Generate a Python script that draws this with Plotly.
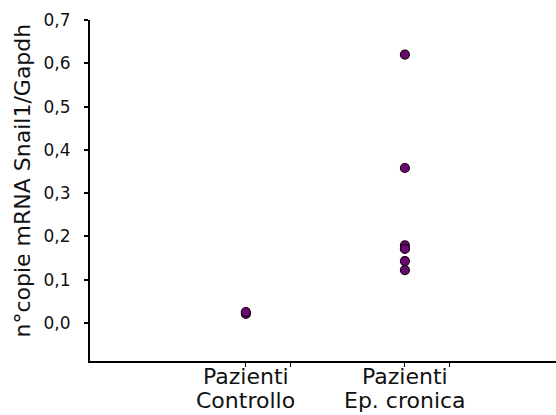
import plotly.graph_objects as go

categories_line1 = ["Pazienti", "Pazienti"]
categories_line2 = ["Controllo", "Ep. cronica"]
cat_pos = [1, 2]
controllo = [0.021, 0.025]
ep_cronica = [0.62, 0.358, 0.179, 0.171, 0.143, 0.122]
y_ticks = [0.0, 0.1, 0.2, 0.3, 0.4, 0.5, 0.6, 0.7]
y_title = "n°copie mRNA Snail1/Gapdh"

xs = [cat_pos[0]] * len(controllo) + [cat_pos[1]] * len(ep_cronica)
ys = controllo + ep_cronica

FAM = "DejaVu Sans, Liberation Sans, Arial, sans-serif"
INK = "#111111"

fig = go.Figure()
fig.add_trace(go.Scatter(
    x=xs, y=ys, mode="markers",
    marker=dict(size=9, color="#6a0a6e", line=dict(color="#1a001a", width=1.2)),
    showlegend=False, hoverinfo="skip",
))

# category labels (two lines each) under the x axis
for pos, l1, l2 in zip(cat_pos, categories_line1, categories_line2):
    fig.add_annotation(x=pos, xref="x", y=0, yref="paper", text=l1,
                       showarrow=False, xanchor="center", yanchor="middle",
                       yshift=-15, font=dict(family=FAM, size=22, color=INK))
    fig.add_annotation(x=pos, xref="x", y=0, yref="paper", text=l2,
                       showarrow=False, xanchor="center", yanchor="middle",
                       yshift=-39, font=dict(family=FAM, size=22, color=INK))

# y axis title
fig.add_annotation(x=0, xref="paper", y=0.5, yref="paper", text=y_title,
                   showarrow=False, textangle=-90, xanchor="center", yanchor="middle",
                   xshift=-68, yshift=10, font=dict(family=FAM, size=22, color=INK))

fig.update_layout(
    width=556, height=415,
    margin=dict(l=90, r=0, t=20, b=54),
    paper_bgcolor="white", plot_bgcolor="white",
    separators=",.",
    font=dict(family=FAM, size=17, color=INK),
    xaxis=dict(
        range=[0.02, 2.95],
        tickvals=[1, 1.283, 2, 2.283],
        ticktext=["", "", "", ""],
        ticks="outside", ticklen=4, tickwidth=1, tickcolor="black",
        showline=True, linecolor="black", linewidth=2,
        showgrid=False, zeroline=False, automargin=False,
    ),
    yaxis=dict(
        range=[-0.088, 0.7],
        tickvals=y_ticks,
        tickformat=".1f",
        ticks="outside", ticklen=4, tickwidth=1.5, tickcolor="black",
        ticklabelstandoff=10,
        showline=True, linecolor="black", linewidth=2,
        showgrid=False, zeroline=False, automargin=False,
        tickfont=dict(family=FAM, size=17, color=INK),
    ),
)

fig.write_html("out.html",
               config={"displayModeBar": False},
               post_script="document.body.style.margin='0';document.body.style.overflow='hidden';")
